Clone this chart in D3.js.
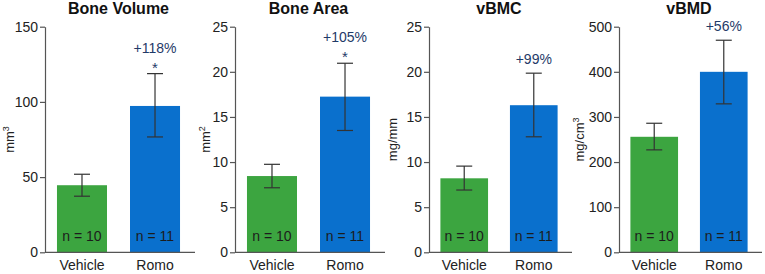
<!DOCTYPE html>
<html>
<head>
<meta charset="utf-8">
<script src="https://cdn.jsdelivr.net/npm/d3@7"></script>
<style>
  body { margin: 0; background: #fff; }
  svg text { font-family: Arial, "Liberation Sans", sans-serif; }
</style>
</head>
<body>
<div id="chart"></div>
<script>
const groups = ["Vehicle", "Romo"];
const counts = ["n = 10", "n = 11"];
const titles = ["Bone Volume", "Bone Area", "vBMC", "vBMD"];
const units = [["mm", "3"], ["mm", "2"], ["mg/mm", ""], ["mg/cm", "3"]];
const yMax = [150, 25, 25, 500];
const yTicks = [[0, 50, 100, 150], [0, 5, 10, 15, 20, 25], [0, 5, 10, 15, 20, 25], [0, 100, 200, 300, 400, 500]];
const means = [[44.6, 97.3], [8.45, 17.25], [8.2, 16.3], [256, 400]];
const errLow = [[37.3, 76.7], [7.15, 13.5], [6.9, 12.8], [227, 329]];
const errHigh = [[51.9, 118.8], [9.75, 20.95], [9.55, 19.85], [286, 470]];
const changes = ["+118%", "+105%", "+99%", "+56%"];
const signif = [true, true, false, false];

(() => {
    const width = 765, height = 274;
    const top = 26.7, bottom = 252.3;
    const axisX = [45, 235, 429, 619];
    const axisW = [150, 150, 143, 143];
    const labelOff = [31, 25, 32, 35];
    const colors = ["#3ca540", "#0a70cd"];

    const svg = d3.select("#chart").append("svg")
        .attr("width", width)
        .attr("height", height);

    titles.forEach((title, i) => {
        const g = svg.append("g").attr("transform", `translate(${axisX[i]},0)`);

        const y = d3.scaleLinear().domain([0, yMax[i]]).range([bottom, top]);
        const x = d3.scaleBand().domain(groups)
            .range([0, axisW[i] - 3])
            .paddingInner(0.315)
            .paddingOuter(0.164);

        const rows = groups.map((k, j) => ({ key: k, v: means[i][j], lo: errLow[i][j], hi: errHigh[i][j], n: counts[j], c: colors[j] }));

        g.selectAll(".bar").data(rows).enter().append("rect")
            .attr("class", "bar")
            .attr("x", d => x(d.key))
            .attr("width", x.bandwidth())
            .attr("y", d => y(d.v))
            .attr("height", d => y(0) - y(d.v))
            .attr("fill", d => d.c);

        // error bars
        const eb = g.selectAll(".err").data(rows).enter().append("g")
            .attr("class", "err")
            .attr("stroke", "#333")
            .attr("stroke-width", 1.2);
        eb.append("line")
            .attr("x1", d => x(d.key) + x.bandwidth() / 2)
            .attr("x2", d => x(d.key) + x.bandwidth() / 2)
            .attr("y1", d => y(d.lo)).attr("y2", d => y(d.hi));
        eb.append("line")
            .attr("x1", d => x(d.key) + x.bandwidth() / 2 - 8)
            .attr("x2", d => x(d.key) + x.bandwidth() / 2 + 8)
            .attr("y1", d => y(d.hi)).attr("y2", d => y(d.hi));
        eb.append("line")
            .attr("x1", d => x(d.key) + x.bandwidth() / 2 - 8)
            .attr("x2", d => x(d.key) + x.bandwidth() / 2 + 8)
            .attr("y1", d => y(d.lo)).attr("y2", d => y(d.lo));

        // n labels
        g.selectAll(".n").data(rows).enter().append("text")
            .attr("x", d => x(d.key) + x.bandwidth() / 2)
            .attr("y", bottom - 11)
            .attr("text-anchor", "middle")
            .style("font-size", "14px")
            .attr("fill", "#1c1c1c")
            .text(d => d.n);

        // y axis
        const yAxis = g.append("g")
            .call(d3.axisLeft(y).tickValues(yTicks[i]).tickSize(5).tickPadding(2).tickSizeOuter(0));
        yAxis.select(".domain").attr("stroke", "#555").attr("stroke-width", 1.2);
        yAxis.selectAll(".tick line").attr("stroke", "#555").attr("stroke-width", 1.2);
        yAxis.selectAll(".tick text").style("font-size", "14px").attr("fill", "#222");

        // x axis
        const xAxis = g.append("g")
            .attr("transform", `translate(0,${bottom})`)
            .call(d3.axisBottom(x).tickSize(0).tickPadding(8).tickSizeOuter(0));
        xAxis.select(".domain").attr("d", `M0,0H${axisW[i]}`).attr("stroke", "#555").attr("stroke-width", 1.2);
        xAxis.selectAll(".tick text").style("font-size", "14px").attr("fill", "#222");

        // title
        g.append("text")
            .attr("x", (x("Vehicle") + x("Romo") + x.bandwidth()) / 2)
            .attr("y", 14)
            .attr("text-anchor", "middle")
            .style("font-size", "16px")
            .style("font-weight", "bold")
            .attr("fill", "#111")
            .text(title);

        // y label
        const yl = g.append("text")
            .attr("transform", `translate(${-labelOff[i]},${(top + bottom) / 2}) rotate(-90)`)
            .attr("text-anchor", "middle")
            .style("font-size", "13px")
            .attr("fill", "#222");
        yl.append("tspan").text(units[i][0]);
        if (units[i][1]) {
            yl.append("tspan").attr("dy", -5).style("font-size", "9px").text(units[i][1]);
        }

        // change annotation
        const cx = x("Romo") + x.bandwidth() / 2;
        const errTop = y(errHigh[i][1]);
        g.append("text")
            .attr("x", cx)
            .attr("y", signif[i] ? errTop - 21 : errTop - 9)
            .attr("text-anchor", "middle")
            .style("font-size", "14px")
            .attr("fill", "#1f3a68")
            .text(changes[i]);
        if (signif[i]) {
            g.append("text")
                .attr("x", cx)
                .attr("y", errTop - 1)
                .attr("text-anchor", "middle")
                .style("font-size", "15px")
                .attr("fill", "#1f3a68")
                .text("*");
        }
    });
})();
</script>
</body>
</html>
